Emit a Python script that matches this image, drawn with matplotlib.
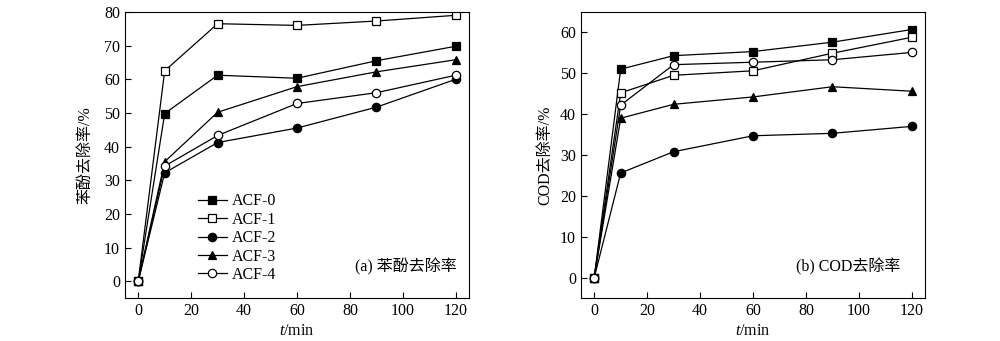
import matplotlib
matplotlib.use("Agg")
import matplotlib.pyplot as plt

plt.rcParams["font.family"] = ["Liberation Serif", "Noto Sans CJK SC"]
plt.rcParams["mathtext.fontset"] = "custom"
plt.rcParams["mathtext.it"] = "Liberation Serif:italic"
plt.rcParams["mathtext.rm"] = "Liberation Serif"

t_min = [0, 10, 30, 60, 90, 120]
series_names = ["ACF-0", "ACF-1", "ACF-2", "ACF-3", "ACF-4"]

# (a) phenol removal, %
phenol_acf0 = [0, 49.8, 61.2, 60.3, 65.5, 69.8]
phenol_acf1 = [0, 62.5, 76.5, 76.0, 77.3, 79.0]
phenol_acf2 = [0, 32.2, 41.2, 45.5, 51.7, 60.0]
phenol_acf3 = [0, 35.5, 50.2, 57.8, 62.2, 65.8]
phenol_acf4 = [0, 34.2, 43.3, 52.8, 56.0, 61.2]

# (b) COD removal, %
cod_acf0 = [0, 51.0, 54.3, 55.3, 57.6, 60.7]
cod_acf1 = [0, 45.2, 49.5, 50.6, 54.9, 58.8]
cod_acf2 = [0, 25.6, 30.8, 34.7, 35.3, 37.0]
cod_acf3 = [0, 39.0, 42.4, 44.2, 46.7, 45.6]
cod_acf4 = [0, 42.2, 52.1, 52.7, 53.3, 55.1]

MARKERS = [("s", "black"), ("s", "white"), ("o", "black"), ("^", "black"), ("o", "white")]


def draw(ax, data, ylim, yticks):
    for name, y, (m, fc) in zip(series_names, data, MARKERS):
        ax.plot(t_min, y, color="black", linewidth=0.9, marker=m, markersize=6,
                markerfacecolor=fc, markeredgecolor="black", markeredgewidth=0.9,
                label=name)
    ax.set_xlim(-5, 125)
    ax.set_ylim(*ylim)
    ax.set_xticks([0, 20, 40, 60, 80, 100, 120])
    ax.set_yticks(yticks)
    ax.tick_params(direction="in", labelsize=11.5, length=4, width=0.8)
    ax.set_xlabel(r"$\mathit{t}$/min", fontsize=11.5, labelpad=3)
    for s in ax.spines.values():
        s.set_linewidth(0.8)


fig = plt.figure(figsize=(10, 3.41), dpi=100)
ax1 = fig.add_axes([0.125, 0.126, 0.344, 0.839])
ax2 = fig.add_axes([0.581, 0.126, 0.344, 0.839])

draw(ax1, [phenol_acf0, phenol_acf1, phenol_acf2, phenol_acf3, phenol_acf4],
     (-5, 80), range(0, 81, 10))
draw(ax2, [cod_acf0, cod_acf1, cod_acf2, cod_acf3, cod_acf4],
     (-5, 65), range(0, 61, 10))

ax1.set_ylabel("苯酚去除率/%", fontsize=11.5, labelpad=8)
ax2.set_ylabel("COD去除率/%", fontsize=11.5, labelpad=5)

ax1.text(0.965, 0.108, "(a) 苯酚去除率", transform=ax1.transAxes,
         ha="right", va="center", fontsize=11.5)
ax2.text(0.927, 0.108, "(b) COD去除率", transform=ax2.transAxes,
         ha="right", va="center", fontsize=11.5)

ax1.legend(loc="upper left", bbox_to_anchor=(0.18, 0.405), frameon=False,
           fontsize=11.5, handlelength=1.8, handletextpad=0.3,
           labelspacing=0.15, borderpad=0.2)

fig.savefig("out.png", dpi=100)
